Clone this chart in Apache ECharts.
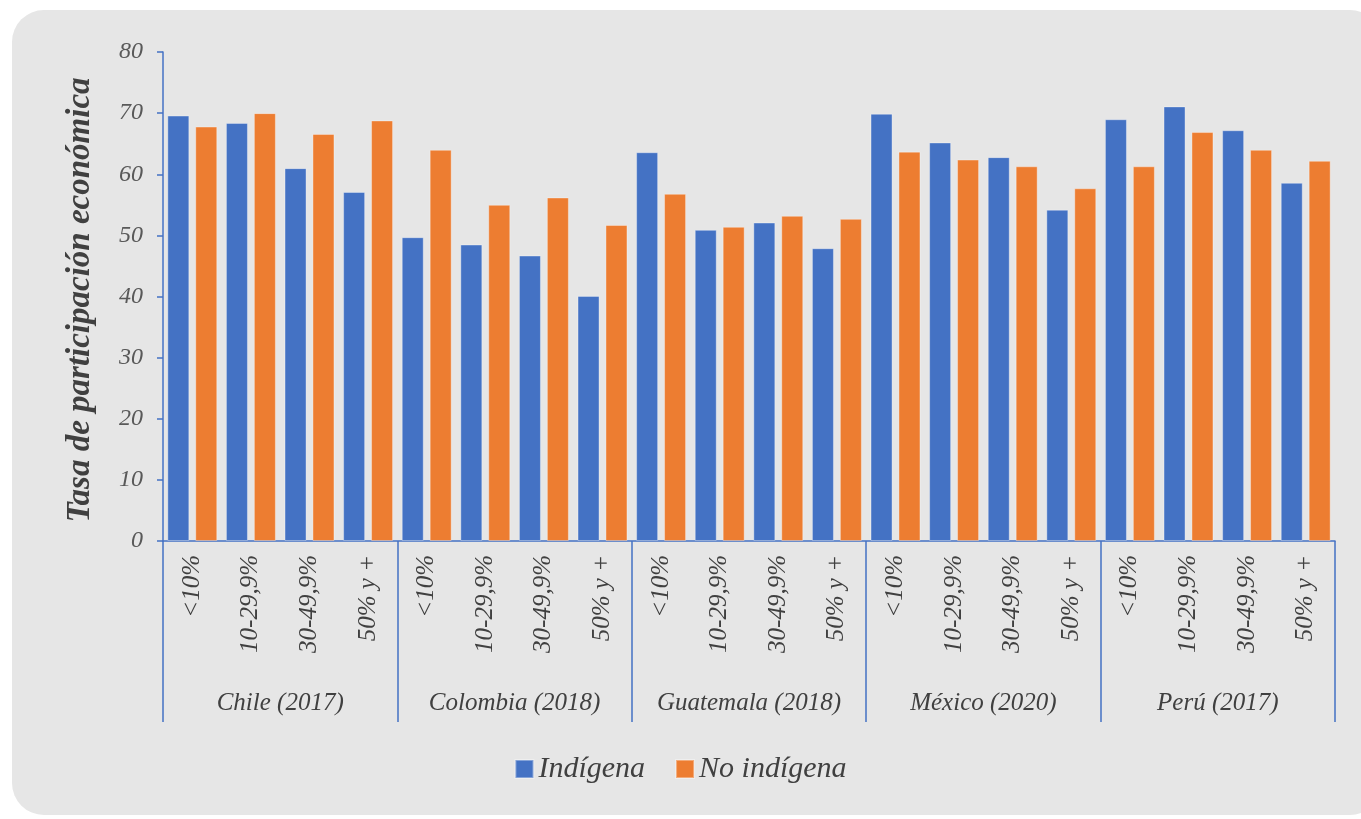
<!DOCTYPE html>
<html>
<head>
<meta charset="utf-8">
<script src="https://cdn.jsdelivr.net/npm/echarts@6/dist/echarts.min.js"></script>
<style>
    html, body { margin: 0; padding: 0; background: #ffffff; }
    #main { width: 1361px; height: 819px; }
</style>
</head>
<body>
<div id="main"></div>
<script>
// datos
var grupos = ['Chile (2017)', 'Colombia (2018)', 'Guatemala (2018)', 'México (2020)', 'Perú (2017)'];
var tramos = ['<10%', '10-29,9%', '30-49,9%', '50% y +'];
var indigena = [
    69.6, 68.4, 61.0, 57.1,
    49.7, 48.5, 46.7, 40.1,
    63.6, 50.9, 52.1, 47.9,
    69.9, 65.2, 62.8, 54.2,
    69.0, 71.1, 67.2, 58.6
];
var noIndigena = [
    67.8, 70.0, 66.6, 68.8,
    64.0, 55.0, 56.2, 51.7,
    56.8, 51.4, 53.2, 52.7,
    63.7, 62.4, 61.3, 57.7,
    61.3, 66.9, 64.0, 62.2
];
var yTicks = [0, 80, 10];

var categorias = [];
grupos.forEach(function (g) {
    tramos.forEach(function (t) { categorias.push(t); });
});

var azul = '#4472c4';
var naranja = '#ed7d31';
var fuente = '"Liberation Serif", "DejaVu Serif", serif';

var myChart = echarts.init(document.getElementById('main'));
myChart.setOption({
    backgroundColor: '#ffffff',
    animation: false,
    graphic: [{
        type: 'rect',
        z: -10,
        shape: { x: 12, y: 10, width: 1370, height: 805, r: 32 },
        style: { fill: '#e6e6e6' }
    }, {
        // título del eje Y
        type: 'text',
        x: 80,
        y: 300,
        rotation: Math.PI / 2,
        style: {
            text: 'Tasa de participación económica',
            font: 'italic bold 33px ' + fuente,
            fill: '#404040',
            align: 'center',
            verticalAlign: 'middle'
        }
    }],
    grid: {
        left: 163,
        right: 26,
        top: 52,
        bottom: 278
    },
    legend: {
        bottom: 30,
        left: 'center',
        itemWidth: 18,
        itemHeight: 18,
        itemGap: 30,
        icon: 'rect',
        textStyle: {
            fontFamily: fuente,
            fontStyle: 'italic',
            fontSize: 30,
            color: '#404040'
        },
        data: ['Indígena', 'No indígena']
    },
    xAxis: [{
        type: 'category',
        data: categorias,
        position: 'bottom',
        axisLine: { lineStyle: { color: azul, width: 1.5 } },
        axisTick: { show: false },
        axisLabel: {
            interval: 0,
            rotate: 90,
            margin: 14,
            fontFamily: fuente,
            fontStyle: 'italic',
            fontSize: 25,
            color: '#404040'
        }
    }, {
        type: 'category',
        data: grupos,
        position: 'bottom',
        axisLine: { show: false },
        axisTick: {
            show: true,
            length: 181,
            lineStyle: { color: azul, width: 1.5 }
        },
        axisLabel: {
            interval: 0,
            margin: 150,
            fontFamily: fuente,
            fontStyle: 'italic',
            fontSize: 25,
            color: '#404040'
        }
    }],
    yAxis: {
        type: 'value',
        min: yTicks[0],
        max: yTicks[1],
        interval: yTicks[2],
        axisLine: { show: true, lineStyle: { color: azul, width: 1.5 } },
        axisTick: { show: true, length: 6, lineStyle: { color: azul, width: 1.5 } },
        splitLine: { show: false },
        axisLabel: {
            margin: 20,
            fontFamily: fuente,
            fontStyle: 'italic',
            fontSize: 24,
            color: '#595959'
        }
    },
    series: [{
        name: 'Indígena',
        type: 'bar',
        xAxisIndex: 0,
        data: indigena,
        barWidth: 22,
        barGap: '27%',
        itemStyle: { color: azul, borderColor: 'rgba(255,255,255,0.35)', borderWidth: 1 }
    }, {
        name: 'No indígena',
        type: 'bar',
        xAxisIndex: 0,
        data: noIndigena,
        barWidth: 22,
        barGap: '27%',
        itemStyle: { color: naranja, borderColor: 'rgba(255,255,255,0.35)', borderWidth: 1 }
    }]
});
</script>
</body>
</html>
